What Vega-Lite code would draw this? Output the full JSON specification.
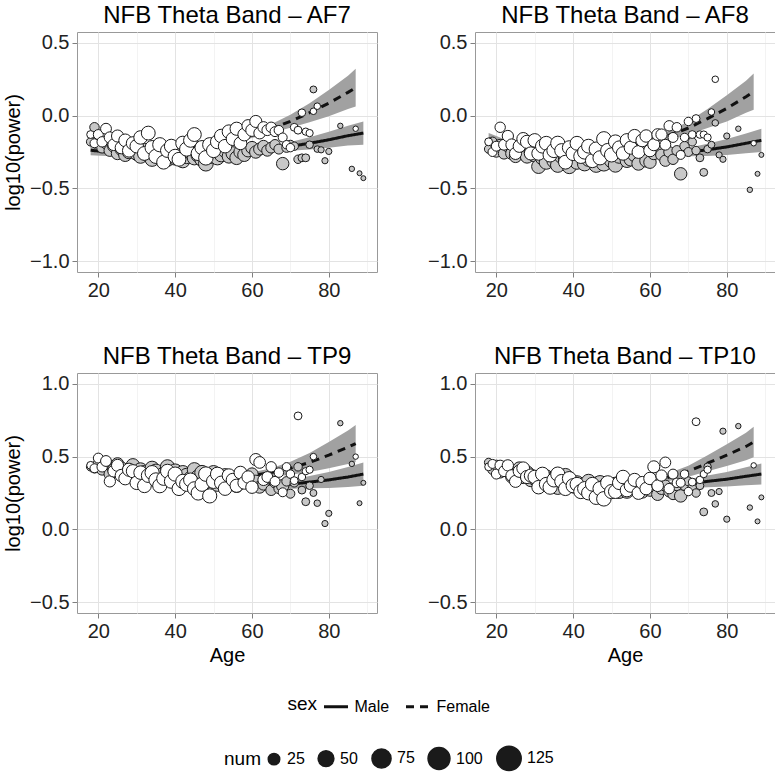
{
"$schema":"https://vega.github.io/schema/vega-lite/v6.json",
"padding":{"left":3,"top":3,"right":4,"bottom":2},
"config":{
 "font":"Liberation Sans",
 "view":{"stroke":"#999999","strokeWidth":1},
 "axis":{"domain":false,"labelFontSize":20,"labelColor":"#222222","tickColor":"#7f7f7f","tickSize":5,"labelPadding":3,"titleFontSize":20,"titleFontWeight":"normal","titleColor":"#000000","titlePadding":6,"gridColor":"#e3e3e3"},
 "title":{"fontSize":24,"fontWeight":"normal","color":"#000000","frame":"group","offset":4},
 "legend":{"orient":"bottom","direction":"horizontal","titleOrient":"left","titleAnchor":"middle","titleBaseline":"middle","titleFontSize":19,"titleFontWeight":"normal","labelFontSize":16,"titleColor":"#000000","labelColor":"#000000","offset":27,"layout":{"bottom":{"anchor":"middle","direction":"vertical","center":true,"margin":30}}}
},
"datasets":{
"pts":[
{"sex":"Male","age":18,"num":12,"AF7":-0.18,"AF8":-0.23,"TP9":0.43,"TP10":0.46},
{"sex":"Male","age":19,"num":16,"AF7":-0.08,"AF8":-0.18,"TP9":0.42,"TP10":0.41},
{"sex":"Male","age":20,"num":20,"AF7":-0.20,"AF8":-0.25,"TP9":0.45,"TP10":0.44},
{"sex":"Male","age":21,"num":22,"AF7":-0.22,"AF8":-0.20,"TP9":0.41,"TP10":0.39},
{"sex":"Male","age":22,"num":24,"AF7":-0.19,"AF8":-0.26,"TP9":0.45,"TP10":0.43},
{"sex":"Male","age":23,"num":26,"AF7":-0.24,"AF8":-0.21,"TP9":0.38,"TP10":0.41},
{"sex":"Male","age":24,"num":28,"AF7":-0.21,"AF8":-0.26,"TP9":0.41,"TP10":0.36},
{"sex":"Male","age":25,"num":30,"AF7":-0.26,"AF8":-0.28,"TP9":0.45,"TP10":0.38},
{"sex":"Male","age":26,"num":32,"AF7":-0.23,"AF8":-0.23,"TP9":0.42,"TP10":0.42},
{"sex":"Male","age":27,"num":34,"AF7":-0.27,"AF8":-0.20,"TP9":0.39,"TP10":0.36},
{"sex":"Male","age":28,"num":36,"AF7":-0.25,"AF8":-0.28,"TP9":0.40,"TP10":0.39},
{"sex":"Male","age":29,"num":36,"AF7":-0.22,"AF8":-0.25,"TP9":0.44,"TP10":0.34},
{"sex":"Male","age":30,"num":38,"AF7":-0.26,"AF8":-0.27,"TP9":0.36,"TP10":0.35},
{"sex":"Male","age":31,"num":38,"AF7":-0.28,"AF8":-0.35,"TP9":0.41,"TP10":0.33},
{"sex":"Male","age":32,"num":40,"AF7":-0.24,"AF8":-0.29,"TP9":0.39,"TP10":0.31},
{"sex":"Male","age":33,"num":40,"AF7":-0.27,"AF8":-0.32,"TP9":0.37,"TP10":0.36},
{"sex":"Male","age":34,"num":40,"AF7":-0.30,"AF8":-0.26,"TP9":0.42,"TP10":0.32},
{"sex":"Male","age":35,"num":40,"AF7":-0.26,"AF8":-0.31,"TP9":0.40,"TP10":0.35},
{"sex":"Male","age":36,"num":42,"AF7":-0.28,"AF8":-0.34,"TP9":0.35,"TP10":0.29},
{"sex":"Male","age":37,"num":40,"AF7":-0.25,"AF8":-0.28,"TP9":0.38,"TP10":0.34},
{"sex":"Male","age":38,"num":40,"AF7":-0.30,"AF8":-0.30,"TP9":0.43,"TP10":0.37},
{"sex":"Male","age":39,"num":40,"AF7":-0.27,"AF8":-0.35,"TP9":0.37,"TP10":0.32},
{"sex":"Male","age":40,"num":42,"AF7":-0.29,"AF8":-0.27,"TP9":0.40,"TP10":0.30},
{"sex":"Male","age":41,"num":40,"AF7":-0.26,"AF8":-0.32,"TP9":0.34,"TP10":0.32},
{"sex":"Male","age":42,"num":40,"AF7":-0.31,"AF8":-0.26,"TP9":0.39,"TP10":0.30},
{"sex":"Male","age":43,"num":42,"AF7":-0.28,"AF8":-0.33,"TP9":0.37,"TP10":0.28},
{"sex":"Male","age":44,"num":40,"AF7":-0.25,"AF8":-0.30,"TP9":0.35,"TP10":0.33},
{"sex":"Male","age":45,"num":40,"AF7":-0.29,"AF8":-0.28,"TP9":0.41,"TP10":0.27},
{"sex":"Male","age":46,"num":42,"AF7":-0.27,"AF8":-0.34,"TP9":0.36,"TP10":0.31},
{"sex":"Male","age":47,"num":42,"AF7":-0.30,"AF8":-0.29,"TP9":0.39,"TP10":0.32},
{"sex":"Male","age":48,"num":44,"AF7":-0.33,"AF8":-0.33,"TP9":0.33,"TP10":0.29},
{"sex":"Male","age":49,"num":42,"AF7":-0.28,"AF8":-0.25,"TP9":0.37,"TP10":0.26},
{"sex":"Male","age":50,"num":40,"AF7":-0.26,"AF8":-0.31,"TP9":0.39,"TP10":0.30},
{"sex":"Male","age":51,"num":40,"AF7":-0.29,"AF8":-0.34,"TP9":0.31,"TP10":0.31},
{"sex":"Male","age":52,"num":38,"AF7":-0.27,"AF8":-0.28,"TP9":0.33,"TP10":0.26},
{"sex":"Male","age":53,"num":38,"AF7":-0.24,"AF8":-0.26,"TP9":0.37,"TP10":0.30},
{"sex":"Male","age":54,"num":36,"AF7":-0.28,"AF8":-0.31,"TP9":0.32,"TP10":0.26},
{"sex":"Male","age":55,"num":36,"AF7":-0.26,"AF8":-0.30,"TP9":0.35,"TP10":0.29},
{"sex":"Male","age":56,"num":36,"AF7":-0.29,"AF8":-0.27,"TP9":0.30,"TP10":0.28},
{"sex":"Male","age":57,"num":34,"AF7":-0.25,"AF8":-0.33,"TP9":0.37,"TP10":0.29},
{"sex":"Male","age":58,"num":34,"AF7":-0.27,"AF8":-0.25,"TP9":0.34,"TP10":0.26},
{"sex":"Male","age":59,"num":32,"AF7":-0.24,"AF8":-0.31,"TP9":0.32,"TP10":0.31},
{"sex":"Male","age":60,"num":30,"AF7":-0.22,"AF8":-0.32,"TP9":0.38,"TP10":0.27},
{"sex":"Male","age":61,"num":30,"AF7":-0.25,"AF8":-0.26,"TP9":0.33,"TP10":0.32},
{"sex":"Male","age":62,"num":28,"AF7":-0.23,"AF8":-0.23,"TP9":0.29,"TP10":0.24},
{"sex":"Male","age":63,"num":26,"AF7":-0.21,"AF8":-0.27,"TP9":0.31,"TP10":0.28},
{"sex":"Male","age":64,"num":24,"AF7":-0.24,"AF8":-0.31,"TP9":0.35,"TP10":0.30},
{"sex":"Male","age":65,"num":22,"AF7":-0.22,"AF8":-0.25,"TP9":0.27,"TP10":0.26},
{"sex":"Male","age":66,"num":20,"AF7":-0.20,"AF8":-0.30,"TP9":0.32,"TP10":0.24},
{"sex":"Male","age":67,"num":18,"AF7":-0.23,"AF8":-0.24,"TP9":0.28,"TP10":0.30},
{"sex":"Male","age":68,"num":30,"AF7":-0.33,"AF8":-0.40,"TP9":0.30,"TP10":0.23},
{"sex":"Male","age":69,"num":16,"AF7":-0.22,"AF8":-0.21,"TP9":0.33,"TP10":0.30},
{"sex":"Male","age":70,"num":14,"AF7":-0.20,"AF8":-0.25,"TP9":0.245,"TP10":0.33},
{"sex":"Male","age":71,"num":12,"AF7":-0.21,"AF8":-0.18,"TP9":0.32,"TP10":0.29},
{"sex":"Male","age":72,"num":12,"AF7":-0.30,"AF8":-0.24,"TP9":0.43,"TP10":0.25},
{"sex":"Male","age":73,"num":10,"AF7":-0.29,"AF8":-0.29,"TP9":0.27,"TP10":0.30},
{"sex":"Male","age":74,"num":10,"AF7":-0.29,"AF8":-0.39,"TP9":0.19,"TP10":0.12},
{"sex":"Male","age":75,"num":9,"AF7":-0.20,"AF8":-0.23,"TP9":0.30,"TP10":0.43},
{"sex":"Male","age":76,"num":7,"AF7":0.18,"AF8":-0.20,"TP9":0.25,"TP10":0.25},
{"sex":"Male","age":77,"num":6,"AF7":-0.23,"AF8":-0.05,"TP9":0.18,"TP10":0.175},
{"sex":"Male","age":78,"num":5,"AF7":-0.235,"AF8":-0.27,"TP9":0.343,"TP10":0.26},
{"sex":"Male","age":79,"num":5,"AF7":-0.31,"AF8":-0.30,"TP9":0.04,"TP10":0.675},
{"sex":"Male","age":80,"num":5,"AF7":-0.246,"AF8":-0.14,"TP9":0.11,"TP10":0.07},
{"sex":"Male","age":83,"num":3,"AF7":-0.07,"AF8":-0.09,"TP9":0.73,"TP10":0.71},
{"sex":"Male","age":86,"num":3,"AF7":-0.366,"AF8":-0.51,"TP9":0.45,"TP10":0.15},
{"sex":"Male","age":88,"num":2,"AF7":-0.396,"AF8":-0.40,"TP9":0.18,"TP10":0.055},
{"sex":"Male","age":89,"num":2,"AF7":-0.43,"AF8":-0.27,"TP9":0.32,"TP10":0.22},
{"sex":"Female","age":18,"num":10,"AF7":-0.13,"AF8":-0.18,"TP9":0.44,"TP10":0.43},
{"sex":"Female","age":19,"num":14,"AF7":-0.19,"AF8":-0.25,"TP9":0.42,"TP10":0.45},
{"sex":"Female","age":20,"num":18,"AF7":-0.13,"AF8":-0.21,"TP9":0.49,"TP10":0.38},
{"sex":"Female","age":21,"num":20,"AF7":-0.18,"AF8":-0.08,"TP9":0.43,"TP10":0.44},
{"sex":"Female","age":22,"num":22,"AF7":-0.09,"AF8":-0.20,"TP9":0.47,"TP10":0.40},
{"sex":"Female","age":23,"num":24,"AF7":-0.15,"AF8":-0.14,"TP9":0.33,"TP10":0.44},
{"sex":"Female","age":24,"num":26,"AF7":-0.20,"AF8":-0.20,"TP9":0.40,"TP10":0.37},
{"sex":"Female","age":25,"num":28,"AF7":-0.14,"AF8":-0.26,"TP9":0.44,"TP10":0.33},
{"sex":"Female","age":26,"num":30,"AF7":-0.22,"AF8":-0.21,"TP9":0.37,"TP10":0.40},
{"sex":"Female","age":27,"num":32,"AF7":-0.17,"AF8":-0.16,"TP9":0.35,"TP10":0.42},
{"sex":"Female","age":28,"num":34,"AF7":-0.24,"AF8":-0.18,"TP9":0.41,"TP10":0.36},
{"sex":"Female","age":29,"num":34,"AF7":-0.19,"AF8":-0.26,"TP9":0.40,"TP10":0.37},
{"sex":"Female","age":30,"num":36,"AF7":-0.21,"AF8":-0.17,"TP9":0.32,"TP10":0.36},
{"sex":"Female","age":31,"num":36,"AF7":-0.15,"AF8":-0.26,"TP9":0.39,"TP10":0.29},
{"sex":"Female","age":32,"num":38,"AF7":-0.26,"AF8":-0.21,"TP9":0.30,"TP10":0.38},
{"sex":"Female","age":33,"num":38,"AF7":-0.12,"AF8":-0.19,"TP9":0.37,"TP10":0.31},
{"sex":"Female","age":34,"num":40,"AF7":-0.22,"AF8":-0.27,"TP9":0.39,"TP10":0.29},
{"sex":"Female","age":35,"num":40,"AF7":-0.28,"AF8":-0.24,"TP9":0.34,"TP10":0.34},
{"sex":"Female","age":36,"num":40,"AF7":-0.20,"AF8":-0.19,"TP9":0.30,"TP10":0.38},
{"sex":"Female","age":37,"num":38,"AF7":-0.32,"AF8":-0.24,"TP9":0.35,"TP10":0.33},
{"sex":"Female","age":38,"num":38,"AF7":-0.24,"AF8":-0.32,"TP9":0.40,"TP10":0.28},
{"sex":"Female","age":39,"num":38,"AF7":-0.21,"AF8":-0.22,"TP9":0.33,"TP10":0.35},
{"sex":"Female","age":40,"num":40,"AF7":-0.28,"AF8":-0.26,"TP9":0.38,"TP10":0.30},
{"sex":"Female","age":41,"num":38,"AF7":-0.30,"AF8":-0.19,"TP9":0.28,"TP10":0.31},
{"sex":"Female","age":42,"num":40,"AF7":-0.19,"AF8":-0.28,"TP9":0.33,"TP10":0.26},
{"sex":"Female","age":43,"num":40,"AF7":-0.23,"AF8":-0.25,"TP9":0.31,"TP10":0.28},
{"sex":"Female","age":44,"num":38,"AF7":-0.17,"AF8":-0.21,"TP9":0.34,"TP10":0.25},
{"sex":"Female","age":45,"num":38,"AF7":-0.13,"AF8":-0.31,"TP9":0.28,"TP10":0.31},
{"sex":"Female","age":46,"num":40,"AF7":-0.26,"AF8":-0.23,"TP9":0.25,"TP10":0.22},
{"sex":"Female","age":47,"num":40,"AF7":-0.22,"AF8":-0.29,"TP9":0.31,"TP10":0.28},
{"sex":"Female","age":48,"num":42,"AF7":-0.29,"AF8":-0.16,"TP9":0.38,"TP10":0.21},
{"sex":"Female","age":49,"num":40,"AF7":-0.20,"AF8":-0.24,"TP9":0.23,"TP10":0.32},
{"sex":"Female","age":50,"num":40,"AF7":-0.24,"AF8":-0.27,"TP9":0.33,"TP10":0.26},
{"sex":"Female","age":51,"num":38,"AF7":-0.18,"AF8":-0.18,"TP9":0.38,"TP10":0.26},
{"sex":"Female","age":52,"num":36,"AF7":-0.14,"AF8":-0.22,"TP9":0.32,"TP10":0.32},
{"sex":"Female","age":53,"num":36,"AF7":-0.21,"AF8":-0.26,"TP9":0.28,"TP10":0.36},
{"sex":"Female","age":54,"num":36,"AF7":-0.11,"AF8":-0.17,"TP9":0.37,"TP10":0.27},
{"sex":"Female","age":55,"num":34,"AF7":-0.16,"AF8":-0.22,"TP9":0.34,"TP10":0.30},
{"sex":"Female","age":56,"num":34,"AF7":-0.09,"AF8":-0.14,"TP9":0.30,"TP10":0.34},
{"sex":"Female","age":57,"num":32,"AF7":-0.19,"AF8":-0.25,"TP9":0.39,"TP10":0.25},
{"sex":"Female","age":58,"num":32,"AF7":-0.13,"AF8":-0.17,"TP9":0.32,"TP10":0.32},
{"sex":"Female","age":59,"num":30,"AF7":-0.07,"AF8":-0.14,"TP9":0.36,"TP10":0.28},
{"sex":"Female","age":60,"num":30,"AF7":-0.10,"AF8":-0.24,"TP9":0.29,"TP10":0.35},
{"sex":"Female","age":61,"num":28,"AF7":-0.04,"AF8":-0.20,"TP9":0.48,"TP10":0.43},
{"sex":"Female","age":62,"num":26,"AF7":-0.12,"AF8":-0.13,"TP9":0.46,"TP10":0.30},
{"sex":"Female","age":63,"num":24,"AF7":-0.08,"AF8":-0.13,"TP9":0.34,"TP10":0.37},
{"sex":"Female","age":64,"num":22,"AF7":-0.10,"AF8":-0.20,"TP9":0.36,"TP10":0.46},
{"sex":"Female","age":65,"num":20,"AF7":-0.08,"AF8":-0.07,"TP9":0.43,"TP10":0.28},
{"sex":"Female","age":66,"num":18,"AF7":-0.11,"AF8":-0.15,"TP9":0.33,"TP10":0.38},
{"sex":"Female","age":67,"num":16,"AF7":-0.10,"AF8":-0.08,"TP9":0.39,"TP10":0.32},
{"sex":"Female","age":68,"num":14,"AF7":-0.15,"AF8":-0.27,"TP9":0.255,"TP10":0.32},
{"sex":"Female","age":69,"num":12,"AF7":-0.20,"AF8":-0.15,"TP9":0.43,"TP10":0.38},
{"sex":"Female","age":70,"num":12,"AF7":-0.22,"AF8":-0.04,"TP9":0.38,"TP10":0.26},
{"sex":"Female","age":71,"num":10,"AF7":-0.08,"AF8":-0.13,"TP9":0.335,"TP10":0.325},
{"sex":"Female","age":72,"num":10,"AF7":-0.10,"AF8":-0.02,"TP9":0.78,"TP10":0.74},
{"sex":"Female","age":73,"num":9,"AF7":0.02,"AF8":-0.13,"TP9":0.36,"TP10":0.34},
{"sex":"Female","age":74,"num":8,"AF7":-0.11,"AF8":-0.13,"TP9":0.40,"TP10":0.38},
{"sex":"Female","age":75,"num":8,"AF7":-0.12,"AF8":-0.15,"TP9":0.41,"TP10":0.41},
{"sex":"Female","age":76,"num":6,"AF7":0.03,"AF8":0.025,"TP9":0.50,"TP10":null},
{"sex":"Female","age":77,"num":6,"AF7":0.065,"AF8":0.25,"TP9":null,"TP10":null},
{"sex":"Female","age":87,"num":3,"AF7":-0.09,"AF8":-0.19,"TP9":0.50,"TP10":0.44}
],
"fit":[
{"sex":"Male","age":18,"AF7_fit":-0.238,"AF7_lo":-0.273,"AF7_hi":-0.203,"AF8_fit":-0.22,"AF8_lo":-0.255,"AF8_hi":-0.185,"TP9_fit":0.43,"TP9_lo":0.395,"TP9_hi":0.465,"TP10_fit":0.43,"TP10_lo":0.395,"TP10_hi":0.465},
{"sex":"Male","age":22,"AF7_fit":-0.249,"AF7_lo":-0.277,"AF7_hi":-0.221,"AF8_fit":-0.245,"AF8_lo":-0.273,"AF8_hi":-0.217,"TP9_fit":0.41,"TP9_lo":0.382,"TP9_hi":0.438,"TP10_fit":0.40,"TP10_lo":0.372,"TP10_hi":0.428},
{"sex":"Male","age":26,"AF7_fit":-0.257,"AF7_lo":-0.279,"AF7_hi":-0.235,"AF8_fit":-0.265,"AF8_lo":-0.287,"AF8_hi":-0.243,"TP9_fit":0.39,"TP9_lo":0.368,"TP9_hi":0.412,"TP10_fit":0.37,"TP10_lo":0.348,"TP10_hi":0.392},
{"sex":"Male","age":30,"AF7_fit":-0.263,"AF7_lo":-0.281,"AF7_hi":-0.245,"AF8_fit":-0.28,"AF8_lo":-0.298,"AF8_hi":-0.262,"TP9_fit":0.375,"TP9_lo":0.357,"TP9_hi":0.393,"TP10_fit":0.345,"TP10_lo":0.327,"TP10_hi":0.363},
{"sex":"Male","age":35,"AF7_fit":-0.268,"AF7_lo":-0.283,"AF7_hi":-0.253,"AF8_fit":-0.29,"AF8_lo":-0.305,"AF8_hi":-0.275,"TP9_fit":0.36,"TP9_lo":0.345,"TP9_hi":0.375,"TP10_fit":0.32,"TP10_lo":0.305,"TP10_hi":0.335},
{"sex":"Male","age":40,"AF7_fit":-0.27,"AF7_lo":-0.284,"AF7_hi":-0.256,"AF8_fit":-0.295,"AF8_lo":-0.309,"AF8_hi":-0.281,"TP9_fit":0.345,"TP9_lo":0.331,"TP9_hi":0.359,"TP10_fit":0.30,"TP10_lo":0.286,"TP10_hi":0.314},
{"sex":"Male","age":45,"AF7_fit":-0.268,"AF7_lo":-0.282,"AF7_hi":-0.254,"AF8_fit":-0.295,"AF8_lo":-0.309,"AF8_hi":-0.281,"TP9_fit":0.335,"TP9_lo":0.321,"TP9_hi":0.349,"TP10_fit":0.29,"TP10_lo":0.276,"TP10_hi":0.304},
{"sex":"Male","age":50,"AF7_fit":-0.263,"AF7_lo":-0.277,"AF7_hi":-0.249,"AF8_fit":-0.29,"AF8_lo":-0.304,"AF8_hi":-0.276,"TP9_fit":0.325,"TP9_lo":0.311,"TP9_hi":0.339,"TP10_fit":0.285,"TP10_lo":0.271,"TP10_hi":0.299},
{"sex":"Male","age":55,"AF7_fit":-0.255,"AF7_lo":-0.27,"AF7_hi":-0.24,"AF8_fit":-0.28,"AF8_lo":-0.295,"AF8_hi":-0.265,"TP9_fit":0.315,"TP9_lo":0.30,"TP9_hi":0.33,"TP10_fit":0.285,"TP10_lo":0.27,"TP10_hi":0.30},
{"sex":"Male","age":60,"AF7_fit":-0.244,"AF7_lo":-0.262,"AF7_hi":-0.226,"AF8_fit":-0.27,"AF8_lo":-0.288,"AF8_hi":-0.252,"TP9_fit":0.31,"TP9_lo":0.292,"TP9_hi":0.328,"TP10_fit":0.29,"TP10_lo":0.272,"TP10_hi":0.308},
{"sex":"Male","age":65,"AF7_fit":-0.229,"AF7_lo":-0.251,"AF7_hi":-0.207,"AF8_fit":-0.26,"AF8_lo":-0.282,"AF8_hi":-0.238,"TP9_fit":0.31,"TP9_lo":0.288,"TP9_hi":0.332,"TP10_fit":0.30,"TP10_lo":0.278,"TP10_hi":0.322},
{"sex":"Male","age":70,"AF7_fit":-0.211,"AF7_lo":-0.241,"AF7_hi":-0.181,"AF8_fit":-0.25,"AF8_lo":-0.28,"AF8_hi":-0.22,"TP9_fit":0.31,"TP9_lo":0.28,"TP9_hi":0.34,"TP10_fit":0.315,"TP10_lo":0.285,"TP10_hi":0.345},
{"sex":"Male","age":75,"AF7_fit":-0.19,"AF7_lo":-0.232,"AF7_hi":-0.148,"AF8_fit":-0.235,"AF8_lo":-0.277,"AF8_hi":-0.193,"TP9_fit":0.325,"TP9_lo":0.283,"TP9_hi":0.367,"TP10_fit":0.33,"TP10_lo":0.29,"TP10_hi":0.37},
{"sex":"Male","age":80,"AF7_fit":-0.166,"AF7_lo":-0.221,"AF7_hi":-0.111,"AF8_fit":-0.215,"AF8_lo":-0.27,"AF8_hi":-0.16,"TP9_fit":0.34,"TP9_lo":0.285,"TP9_hi":0.395,"TP10_fit":0.345,"TP10_lo":0.295,"TP10_hi":0.395},
{"sex":"Male","age":85,"AF7_fit":-0.138,"AF7_lo":-0.206,"AF7_hi":-0.07,"AF8_fit":-0.19,"AF8_lo":-0.258,"AF8_hi":-0.122,"TP9_fit":0.36,"TP9_lo":0.292,"TP9_hi":0.428,"TP10_fit":0.365,"TP10_lo":0.303,"TP10_hi":0.427},
{"sex":"Male","age":89,"AF7_fit":-0.12,"AF7_lo":-0.20,"AF7_hi":-0.04,"AF8_fit":-0.17,"AF8_lo":-0.25,"AF8_hi":-0.09,"TP9_fit":0.38,"TP9_lo":0.30,"TP9_hi":0.46,"TP10_fit":0.38,"TP10_lo":0.308,"TP10_hi":0.452},
{"sex":"Female","age":18,"AF7_fit":-0.185,"AF7_lo":-0.225,"AF7_hi":-0.145,"AF8_fit":-0.16,"AF8_lo":-0.20,"AF8_hi":-0.12,"TP9_fit":0.43,"TP9_lo":0.39,"TP9_hi":0.47,"TP10_fit":0.43,"TP10_lo":0.39,"TP10_hi":0.47},
{"sex":"Female","age":22,"AF7_fit":-0.204,"AF7_lo":-0.234,"AF7_hi":-0.174,"AF8_fit":-0.19,"AF8_lo":-0.22,"AF8_hi":-0.16,"TP9_fit":0.41,"TP9_lo":0.38,"TP9_hi":0.44,"TP10_fit":0.40,"TP10_lo":0.37,"TP10_hi":0.43},
{"sex":"Female","age":26,"AF7_fit":-0.217,"AF7_lo":-0.242,"AF7_hi":-0.192,"AF8_fit":-0.21,"AF8_lo":-0.235,"AF8_hi":-0.185,"TP9_fit":0.385,"TP9_lo":0.36,"TP9_hi":0.41,"TP10_fit":0.37,"TP10_lo":0.345,"TP10_hi":0.395},
{"sex":"Female","age":30,"AF7_fit":-0.226,"AF7_lo":-0.246,"AF7_hi":-0.206,"AF8_fit":-0.225,"AF8_lo":-0.245,"AF8_hi":-0.205,"TP9_fit":0.37,"TP9_lo":0.35,"TP9_hi":0.39,"TP10_fit":0.345,"TP10_lo":0.325,"TP10_hi":0.365},
{"sex":"Female","age":35,"AF7_fit":-0.23,"AF7_lo":-0.248,"AF7_hi":-0.212,"AF8_fit":-0.24,"AF8_lo":-0.258,"AF8_hi":-0.222,"TP9_fit":0.355,"TP9_lo":0.337,"TP9_hi":0.373,"TP10_fit":0.32,"TP10_lo":0.302,"TP10_hi":0.338},
{"sex":"Female","age":40,"AF7_fit":-0.226,"AF7_lo":-0.242,"AF7_hi":-0.21,"AF8_fit":-0.245,"AF8_lo":-0.261,"AF8_hi":-0.229,"TP9_fit":0.345,"TP9_lo":0.329,"TP9_hi":0.361,"TP10_fit":0.30,"TP10_lo":0.284,"TP10_hi":0.316},
{"sex":"Female","age":45,"AF7_fit":-0.214,"AF7_lo":-0.23,"AF7_hi":-0.198,"AF8_fit":-0.24,"AF8_lo":-0.256,"AF8_hi":-0.224,"TP9_fit":0.34,"TP9_lo":0.324,"TP9_hi":0.356,"TP10_fit":0.29,"TP10_lo":0.274,"TP10_hi":0.306},
{"sex":"Female","age":50,"AF7_fit":-0.195,"AF7_lo":-0.211,"AF7_hi":-0.179,"AF8_fit":-0.225,"AF8_lo":-0.241,"AF8_hi":-0.209,"TP9_fit":0.345,"TP9_lo":0.329,"TP9_hi":0.361,"TP10_fit":0.29,"TP10_lo":0.274,"TP10_hi":0.306},
{"sex":"Female","age":55,"AF7_fit":-0.168,"AF7_lo":-0.186,"AF7_hi":-0.15,"AF8_fit":-0.20,"AF8_lo":-0.218,"AF8_hi":-0.182,"TP9_fit":0.355,"TP9_lo":0.337,"TP9_hi":0.373,"TP10_fit":0.30,"TP10_lo":0.282,"TP10_hi":0.318},
{"sex":"Female","age":60,"AF7_fit":-0.132,"AF7_lo":-0.154,"AF7_hi":-0.11,"AF8_fit":-0.17,"AF8_lo":-0.192,"AF8_hi":-0.148,"TP9_fit":0.37,"TP9_lo":0.348,"TP9_hi":0.392,"TP10_fit":0.325,"TP10_lo":0.303,"TP10_hi":0.347},
{"sex":"Female","age":65,"AF7_fit":-0.09,"AF7_lo":-0.12,"AF7_hi":-0.06,"AF8_fit":-0.135,"AF8_lo":-0.165,"AF8_hi":-0.105,"TP9_fit":0.39,"TP9_lo":0.36,"TP9_hi":0.42,"TP10_fit":0.36,"TP10_lo":0.332,"TP10_hi":0.388},
{"sex":"Female","age":70,"AF7_fit":-0.039,"AF7_lo":-0.084,"AF7_hi":0.006,"AF8_fit":-0.085,"AF8_lo":-0.13,"AF8_hi":-0.04,"TP9_fit":0.42,"TP9_lo":0.375,"TP9_hi":0.465,"TP10_fit":0.40,"TP10_lo":0.362,"TP10_hi":0.438},
{"sex":"Female","age":75,"AF7_fit":0.02,"AF7_lo":-0.045,"AF7_hi":0.085,"AF8_fit":-0.02,"AF8_lo":-0.085,"AF8_hi":0.045,"TP9_fit":0.46,"TP9_lo":0.395,"TP9_hi":0.525,"TP10_fit":0.455,"TP10_lo":0.40,"TP10_hi":0.51},
{"sex":"Female","age":80,"AF7_fit":0.086,"AF7_lo":-0.004,"AF7_hi":0.176,"AF8_fit":0.05,"AF8_lo":-0.04,"AF8_hi":0.14,"TP9_fit":0.51,"TP9_lo":0.42,"TP9_hi":0.60,"TP10_fit":0.51,"TP10_lo":0.435,"TP10_hi":0.585},
{"sex":"Female","age":85,"AF7_fit":0.16,"AF7_lo":0.045,"AF7_hi":0.275,"AF8_fit":0.13,"AF8_lo":0.02,"AF8_hi":0.24,"TP9_fit":0.565,"TP9_lo":0.45,"TP9_hi":0.68,"TP10_fit":0.57,"TP10_lo":0.475,"TP10_hi":0.665},
{"sex":"Female","age":87,"AF7_fit":0.192,"AF7_lo":0.062,"AF7_hi":0.322,"AF8_fit":0.165,"AF8_lo":0.04,"AF8_hi":0.29,"TP9_fit":0.59,"TP9_lo":0.463,"TP9_hi":0.717,"TP10_fit":0.60,"TP10_lo":0.495,"TP10_hi":0.705}
]
},
"columns":2,
"spacing":{"row":43,"column":49},
"concat":[
{"width":300,"height":240,"title":{"text":"NFB Theta Band – AF7"},
 "encoding":{"x":{"field":"age","type":"quantitative","title":null,"scale":{"domain":[14.45,92.55],"nice":false,"zero":false},"axis":{"values":[20,30,40,50,60,70,80,90],"format":"d","labelExpr":"datum.value % 20 === 0 ? datum.label : ''","tickOpacity":{"condition":{"test":"datum.value % 20 !== 0","value":0},"value":1},"gridColor":{"condition":{"test":"datum.value % 20 !== 0","value":"#f3f3f3"},"value":"#e3e3e3"}}}},
 "layer":[
  {"data":{"name":"fit"},"mark":{"type":"area","color":"#a1a1a1","opacity":1},
   "encoding":{
    "y":{"field":"AF7_lo","type":"quantitative","title":"log10(power)","scale":{"domain":[-1.075,0.575],"nice":false,"zero":false},"axis":{"values":[-1,-0.75,-0.5,-0.25,0,0.25,0.5],"format":".1f","labelExpr":"abs(datum.value*2-round(datum.value*2))>0.01 ? '' : datum.label","tickOpacity":{"condition":{"test":"abs(datum.value*2-round(datum.value*2))>0.01","value":0},"value":1},"gridColor":{"condition":{"test":"abs(datum.value*2-round(datum.value*2))>0.01","value":"#f3f3f3"},"value":"#e3e3e3"}}},
    "y2":{"field":"AF7_hi"},
    "detail":{"field":"sex"}}},
  {"data":{"name":"fit"},"mark":{"type":"line","color":"#111111","strokeWidth":3},
   "encoding":{
    "y":{"field":"AF7_fit","type":"quantitative","title":"log10(power)"},
    "strokeDash":{"field":"sex","type":"nominal","scale":{"domain":["Male","Female"],"range":[[1,0],[8,6]]},"legend":{"title":"sex","symbolType":"stroke","symbolStrokeWidth":3,"symbolStrokeColor":"#111111","symbolSize":576,"labelOffset":5,"columnPadding":10}}}},
  {"data":{"name":"pts"},"mark":{"type":"circle","opacity":1,"stroke":"#1a1a1a","strokeWidth":1},
   "encoding":{
    "y":{"field":"AF7","type":"quantitative","title":"log10(power)"},
    "fill":{"field":"sex","type":"nominal","scale":{"domain":["Male","Female"],"range":["#c8c8c8","#ffffff"]},"legend":null},
    "size":{"field":"num","type":"quantitative","scale":{"type":"linear","domain":[1,130],"range":[20,620],"zero":false},"legend":{"title":"num","values":[25,50,75,100,125],"symbolFillColor":"#1a1a1a","symbolStrokeColor":"#1a1a1a","symbolOpacity":1,"labelOffset":5,"columnPadding":10,"encode":{"symbols":{"update":{"fill":{"value":"#1a1a1a"},"stroke":{"value":"#1a1a1a"},"opacity":{"value":1}}}}}}}}
 ]},
{"width":300,"height":240,"title":{"text":"NFB Theta Band – AF8"},
 "encoding":{"x":{"field":"age","type":"quantitative","title":null,"scale":{"domain":[14.45,92.55],"nice":false,"zero":false},"axis":{"values":[20,30,40,50,60,70,80,90],"format":"d","labelExpr":"datum.value % 20 === 0 ? datum.label : ''","tickOpacity":{"condition":{"test":"datum.value % 20 !== 0","value":0},"value":1},"gridColor":{"condition":{"test":"datum.value % 20 !== 0","value":"#f3f3f3"},"value":"#e3e3e3"}}}},
 "layer":[
  {"data":{"name":"fit"},"mark":{"type":"area","color":"#a1a1a1","opacity":1},
   "encoding":{
    "y":{"field":"AF8_lo","type":"quantitative","title":null,"scale":{"domain":[-1.075,0.575],"nice":false,"zero":false},"axis":{"values":[-1,-0.75,-0.5,-0.25,0,0.25,0.5],"format":".1f","labelExpr":"abs(datum.value*2-round(datum.value*2))>0.01 ? '' : datum.label","tickOpacity":{"condition":{"test":"abs(datum.value*2-round(datum.value*2))>0.01","value":0},"value":1},"gridColor":{"condition":{"test":"abs(datum.value*2-round(datum.value*2))>0.01","value":"#f3f3f3"},"value":"#e3e3e3"}}},
    "y2":{"field":"AF8_hi"},
    "detail":{"field":"sex"}}},
  {"data":{"name":"fit"},"mark":{"type":"line","color":"#111111","strokeWidth":3},
   "encoding":{
    "y":{"field":"AF8_fit","type":"quantitative","title":null},
    "strokeDash":{"field":"sex","type":"nominal","scale":{"domain":["Male","Female"],"range":[[1,0],[8,6]]},"legend":{"title":"sex","symbolType":"stroke","symbolStrokeWidth":3,"symbolStrokeColor":"#111111","symbolSize":576,"labelOffset":5,"columnPadding":10}}}},
  {"data":{"name":"pts"},"mark":{"type":"circle","opacity":1,"stroke":"#1a1a1a","strokeWidth":1},
   "encoding":{
    "y":{"field":"AF8","type":"quantitative","title":null},
    "fill":{"field":"sex","type":"nominal","scale":{"domain":["Male","Female"],"range":["#c8c8c8","#ffffff"]},"legend":null},
    "size":{"field":"num","type":"quantitative","scale":{"type":"linear","domain":[1,130],"range":[20,620],"zero":false},"legend":{"title":"num","values":[25,50,75,100,125],"symbolFillColor":"#1a1a1a","symbolStrokeColor":"#1a1a1a","symbolOpacity":1,"labelOffset":5,"columnPadding":10,"encode":{"symbols":{"update":{"fill":{"value":"#1a1a1a"},"stroke":{"value":"#1a1a1a"},"opacity":{"value":1}}}}}}}}
 ]},
{"width":300,"height":240,"title":{"text":"NFB Theta Band – TP9"},
 "encoding":{"x":{"field":"age","type":"quantitative","title":"Age","scale":{"domain":[14.45,92.55],"nice":false,"zero":false},"axis":{"values":[20,30,40,50,60,70,80,90],"format":"d","titlePadding":4,"labelExpr":"datum.value % 20 === 0 ? datum.label : ''","tickOpacity":{"condition":{"test":"datum.value % 20 !== 0","value":0},"value":1},"gridColor":{"condition":{"test":"datum.value % 20 !== 0","value":"#f3f3f3"},"value":"#e3e3e3"}}}},
 "layer":[
  {"data":{"name":"fit"},"mark":{"type":"area","color":"#a1a1a1","opacity":1},
   "encoding":{
    "y":{"field":"TP9_lo","type":"quantitative","title":"log10(power)","scale":{"domain":[-0.575,1.075],"nice":false,"zero":false},"axis":{"values":[-0.5,-0.25,0,0.25,0.5,0.75,1],"format":".1f","labelExpr":"abs(datum.value*2-round(datum.value*2))>0.01 ? '' : datum.label","tickOpacity":{"condition":{"test":"abs(datum.value*2-round(datum.value*2))>0.01","value":0},"value":1},"gridColor":{"condition":{"test":"abs(datum.value*2-round(datum.value*2))>0.01","value":"#f3f3f3"},"value":"#e3e3e3"}}},
    "y2":{"field":"TP9_hi"},
    "detail":{"field":"sex"}}},
  {"data":{"name":"fit"},"mark":{"type":"line","color":"#111111","strokeWidth":3},
   "encoding":{
    "y":{"field":"TP9_fit","type":"quantitative","title":"log10(power)"},
    "strokeDash":{"field":"sex","type":"nominal","scale":{"domain":["Male","Female"],"range":[[1,0],[8,6]]},"legend":{"title":"sex","symbolType":"stroke","symbolStrokeWidth":3,"symbolStrokeColor":"#111111","symbolSize":576,"labelOffset":5,"columnPadding":10}}}},
  {"data":{"name":"pts"},"mark":{"type":"circle","opacity":1,"stroke":"#1a1a1a","strokeWidth":1},
   "encoding":{
    "y":{"field":"TP9","type":"quantitative","title":"log10(power)"},
    "fill":{"field":"sex","type":"nominal","scale":{"domain":["Male","Female"],"range":["#c8c8c8","#ffffff"]},"legend":null},
    "size":{"field":"num","type":"quantitative","scale":{"type":"linear","domain":[1,130],"range":[20,620],"zero":false},"legend":{"title":"num","values":[25,50,75,100,125],"symbolFillColor":"#1a1a1a","symbolStrokeColor":"#1a1a1a","symbolOpacity":1,"labelOffset":5,"columnPadding":10,"encode":{"symbols":{"update":{"fill":{"value":"#1a1a1a"},"stroke":{"value":"#1a1a1a"},"opacity":{"value":1}}}}}}}}
 ]},
{"width":300,"height":240,"title":{"text":"NFB Theta Band – TP10"},
 "encoding":{"x":{"field":"age","type":"quantitative","title":"Age","scale":{"domain":[14.45,92.55],"nice":false,"zero":false},"axis":{"values":[20,30,40,50,60,70,80,90],"format":"d","titlePadding":4,"labelExpr":"datum.value % 20 === 0 ? datum.label : ''","tickOpacity":{"condition":{"test":"datum.value % 20 !== 0","value":0},"value":1},"gridColor":{"condition":{"test":"datum.value % 20 !== 0","value":"#f3f3f3"},"value":"#e3e3e3"}}}},
 "layer":[
  {"data":{"name":"fit"},"mark":{"type":"area","color":"#a1a1a1","opacity":1},
   "encoding":{
    "y":{"field":"TP10_lo","type":"quantitative","title":null,"scale":{"domain":[-0.575,1.075],"nice":false,"zero":false},"axis":{"values":[-0.5,-0.25,0,0.25,0.5,0.75,1],"format":".1f","labelExpr":"abs(datum.value*2-round(datum.value*2))>0.01 ? '' : datum.label","tickOpacity":{"condition":{"test":"abs(datum.value*2-round(datum.value*2))>0.01","value":0},"value":1},"gridColor":{"condition":{"test":"abs(datum.value*2-round(datum.value*2))>0.01","value":"#f3f3f3"},"value":"#e3e3e3"}}},
    "y2":{"field":"TP10_hi"},
    "detail":{"field":"sex"}}},
  {"data":{"name":"fit"},"mark":{"type":"line","color":"#111111","strokeWidth":3},
   "encoding":{
    "y":{"field":"TP10_fit","type":"quantitative","title":null},
    "strokeDash":{"field":"sex","type":"nominal","scale":{"domain":["Male","Female"],"range":[[1,0],[8,6]]},"legend":{"title":"sex","symbolType":"stroke","symbolStrokeWidth":3,"symbolStrokeColor":"#111111","symbolSize":576,"labelOffset":5,"columnPadding":10}}}},
  {"data":{"name":"pts"},"mark":{"type":"circle","opacity":1,"stroke":"#1a1a1a","strokeWidth":1},
   "encoding":{
    "y":{"field":"TP10","type":"quantitative","title":null},
    "fill":{"field":"sex","type":"nominal","scale":{"domain":["Male","Female"],"range":["#c8c8c8","#ffffff"]},"legend":null},
    "size":{"field":"num","type":"quantitative","scale":{"type":"linear","domain":[1,130],"range":[20,620],"zero":false},"legend":{"title":"num","values":[25,50,75,100,125],"symbolFillColor":"#1a1a1a","symbolStrokeColor":"#1a1a1a","symbolOpacity":1,"labelOffset":5,"columnPadding":10,"encode":{"symbols":{"update":{"fill":{"value":"#1a1a1a"},"stroke":{"value":"#1a1a1a"},"opacity":{"value":1}}}}}}}}
 ]}
]
}
